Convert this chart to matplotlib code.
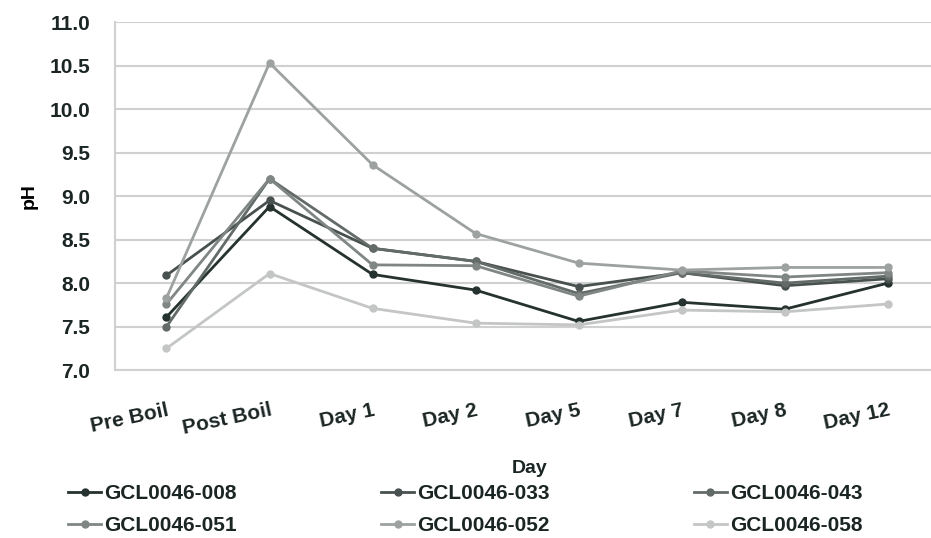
import matplotlib
matplotlib.use("Agg")
import matplotlib.pyplot as plt
import numpy as np

#%% pH readings per sample
days = ["Pre Boil", "Post Boil", "Day 1", "Day 2", "Day 5", "Day 7", "Day 8", "Day 12"]

ph_008 = [7.61, 8.88, 8.10, 7.92, 7.56, 7.78, 7.70, 8.00]
ph_033 = [8.09, 8.95, 8.40, 8.25, 7.96, 8.12, 7.97, 8.05]
ph_043 = [7.50, 9.20, 8.40, 8.25, 7.88, 8.12, 8.00, 8.08]
ph_051 = [7.76, 9.20, 8.21, 8.20, 7.85, 8.14, 8.07, 8.12]
ph_052 = [7.83, 10.53, 9.36, 8.57, 8.23, 8.15, 8.18, 8.18]
ph_058 = [7.25, 8.11, 7.71, 7.54, 7.52, 7.69, 7.67, 7.76]

samples = ["GCL0046-008", "GCL0046-033", "GCL0046-043",
           "GCL0046-051", "GCL0046-052", "GCL0046-058"]
series = [ph_008, ph_033, ph_043, ph_051, ph_052, ph_058]
colors = ["#25322f", "#48514f", "#636b69", "#7f8684", "#9da2a1", "#c3c6c5"]
txt = "#1b2624"

plt.rcParams['font.family'] = ['Liberation Sans', 'DejaVu Sans']
plt.rcParams['text.color'] = txt

fig = plt.figure(figsize=(9.31, 5.38), dpi=100)
ax = fig.add_axes([0.1235, 0.312, 0.8765, 0.647])

x = np.arange(len(days))
lines = []
for vals, name, c in zip(series, samples, colors):
    ln, = ax.plot(x, vals, color=c, lw=2.0, marker='o', ms=5, label=name)
    lines.append(ln)

ax.set_ylim(7.0, 11.0)
yt = np.arange(7.0, 11.01, 0.5)
ax.set_yticks(yt)
ax.set_yticklabels(["%.1f" % v for v in yt], fontsize=15, fontweight='bold', color=txt)
ax.set_xlim(-0.5, 7.42)
ax.set_xticks(x)
ax.set_xticklabels(days, fontsize=15, fontweight='bold', rotation=12, color=txt,
                   ha='right', rotation_mode='anchor')
ax.tick_params(axis='both', length=0)
ax.tick_params(axis='y', pad=18)
ax.tick_params(axis='x', pad=22)

ax.grid(axis='y', color='#d0d0d0', lw=1.5)
ax.set_axisbelow(True)
for s in ['top', 'right']:
    ax.spines[s].set_visible(False)
for s in ['left', 'bottom']:
    ax.spines[s].set_color('#d0d0d0')
    ax.spines[s].set_linewidth(1.5)

ax.set_ylabel("pH", fontsize=14, fontweight='bold', labelpad=8)
fig.text(0.569, 0.12, "Day", fontsize=14, fontweight='bold', ha='center')

# legend filled row by row: reorder so column-major fill gives rows 008/033/043 and 051/052/058
order = [0, 3, 1, 4, 2, 5]
fig.legend([lines[i] for i in order], [samples[i] for i in order],
           loc='lower left', bbox_to_anchor=(0.053, -0.03), ncol=3,
           frameon=False, prop={'size': 15, 'weight': 'bold'},
           columnspacing=6.9, handlelength=1.6, handletextpad=0.15,
           labelspacing=0.65)

fig.savefig("out.png", dpi=100)
